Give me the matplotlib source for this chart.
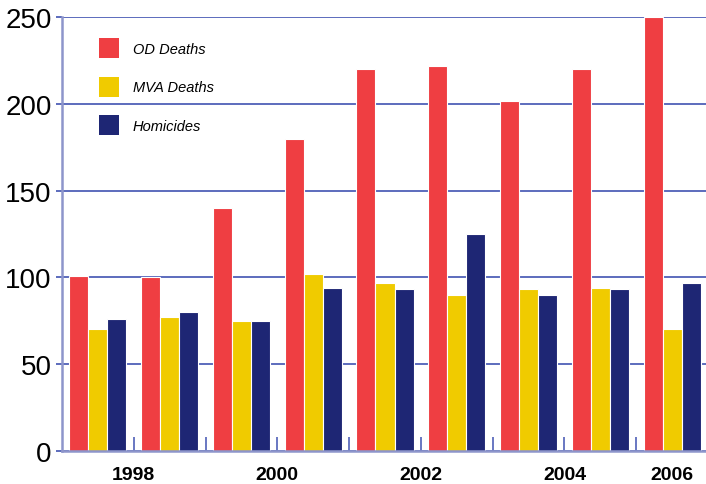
import matplotlib
matplotlib.use("Agg")
import matplotlib.pyplot as plt
from matplotlib import font_manager
from matplotlib.patches import Patch
import numpy as np

# Annual counts by category
years = ["1998", "1999", "2000", "2001", "2002", "2003", "2004", "2005", "2006"]
od_deaths = [101, 100, 140, 180, 220, 222, 202, 220, 250]
mva_deaths = [70, 77, 75, 102, 97, 90, 93, 94, 70]
homicides = [76, 80, 75, 94, 93, 125, 90, 93, 97]

series_names = ["OD Deaths", "MVA Deaths", "Homicides"]
series_colors = ["#EF3E42", "#F0CB00", "#1E2674"]

labelled_years = ["1998", "2000", "2002", "2004", "2006"]
y_ticks = [0, 50, 100, 150, 200, 250]

installed = {f.name for f in font_manager.fontManager.ttflist}
narrow_candidates = ["Liberation Sans Narrow", "DejaVu Sans Condensed"]
narrow = next((n for n in narrow_candidates if n in installed), None)
if narrow:
    num_family, ytick_size, xtick_size = [narrow, "Liberation Sans"], 22.5, 15
else:
    num_family, ytick_size, xtick_size = ["Liberation Sans"], 20, 14

W, H = 706, 485
fig = plt.figure(figsize=(W / 100, H / 100), dpi=100)
left_px, right_px, top_px, bottom_px = 62, 708, 18.3, 451.7
ax = fig.add_axes([left_px / W, 1 - bottom_px / H,
                   (right_px - left_px) / W, (bottom_px - top_px) / H])

x = np.arange(len(years))
bw = 0.265
for i, (vals, color, name) in enumerate(zip([od_deaths, mva_deaths, homicides],
                                             series_colors, series_names)):
    ax.bar(x + (i - 1) * bw, vals, width=bw, color=color, edgecolor="white",
           linewidth=0.8, label=name, zorder=3)

ax.set_xlim(-0.5, len(years) - 0.5)
ax.set_ylim(0, 250)

grid_color = "#4F60B8"
axis_color = "#8D95CB"
ax.set_yticks(y_ticks)
ax.yaxis.grid(True, color=grid_color, linewidth=1.3, zorder=0)
ax.set_axisbelow(True)

for side in ["top", "right"]:
    ax.spines[side].set_visible(False)
for side in ["left", "bottom"]:
    ax.spines[side].set_color(axis_color)
    ax.spines[side].set_linewidth(1.8)
    ax.spines[side].set_zorder(4)

ax.set_yticklabels([str(v) for v in y_ticks], family=num_family, size=ytick_size)
ax.tick_params(axis="y", direction="out", length=4, width=1.3, color=grid_color, pad=3.5)

# group boundary tick marks pointing up from the axis
ax.xaxis.remove_overlapping_locs = False
ax.set_xticks(np.arange(0.5, len(years) - 0.5, 1.0), minor=True)
ax.tick_params(axis="x", which="minor", direction="in", length=10, width=1.2,
               color=grid_color)
label_pos = []
for yr in labelled_years:
    idx = years.index(yr)
    label_pos.append(idx + 0.5 if idx < len(years) - 1 else idx)
ax.set_xticks(label_pos)
ax.set_xticklabels(labelled_years, family=num_family, fontweight="bold", size=xtick_size)
ax.tick_params(axis="x", which="major", length=0, pad=11)

handles = [Patch(facecolor=c, edgecolor="none") for c in series_colors]
fs = 10.5
hl = 20 / (fs * 100 / 72)
hh = (20 / (fs * 100 / 72) - 0.245) / 0.65
leg = ax.legend(handles, series_names, loc="upper left",
                bbox_to_anchor=(99 / W, 1 - 39 / H), bbox_transform=fig.transFigure,
                frameon=False, borderpad=0, borderaxespad=0,
                handlelength=hl, handleheight=hh, handletextpad=14 / (fs * 100 / 72),
                labelspacing=18.5 / (fs * 100 / 72),
                prop=dict(family=["Liberation Sans", "DejaVu Sans"], style="italic", size=fs))

fig.savefig("out.png", dpi=100)
